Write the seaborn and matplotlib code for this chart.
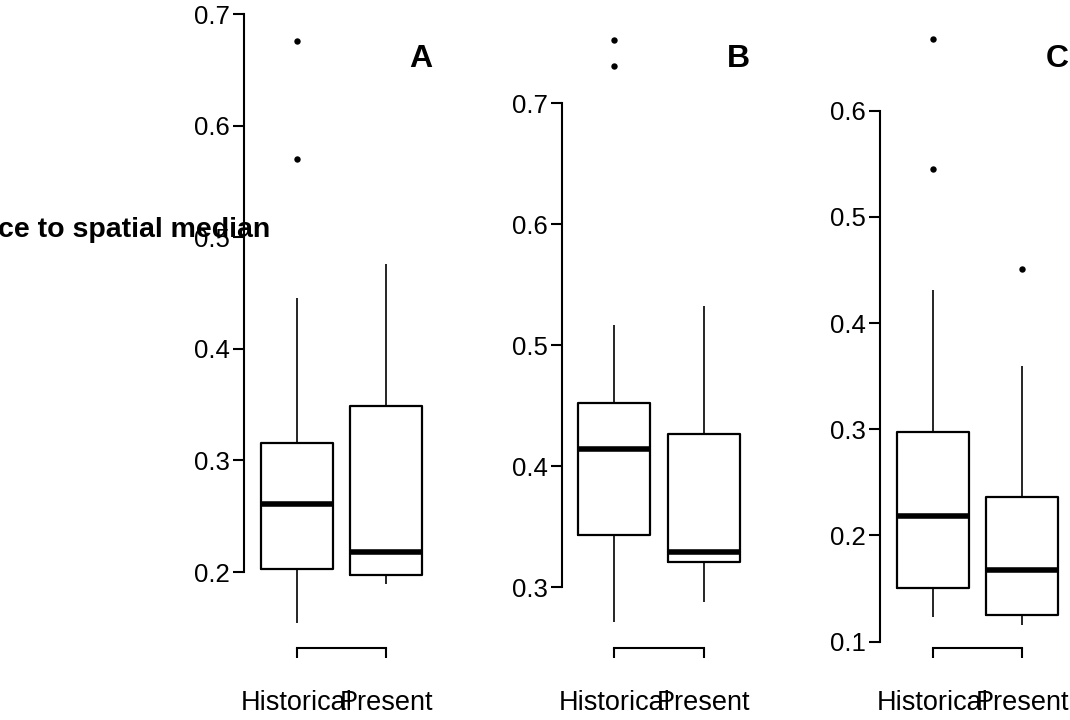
import numpy as np
import pandas as pd
import matplotlib
matplotlib.use("Agg")
import matplotlib.pyplot as plt
import seaborn as sns

# Distance to spatial median, summarised per period for three regions.
periods = ["Historical", "Present"]
panel_letters = ["A", "B", "C"]

# five-number summaries: lower whisker, Q1, median, Q3, upper whisker
a_hist = [0.154, 0.2024, 0.261, 0.316, 0.4455]
a_pres = [0.189, 0.1976, 0.2177, 0.349, 0.476]
b_hist = [0.2709, 0.3427, 0.4142, 0.4521, 0.5166]
b_pres = [0.2878, 0.321, 0.3287, 0.4263, 0.5324]
c_hist = [0.1232, 0.1506, 0.2181, 0.2975, 0.4312]
c_pres = [0.116, 0.1253, 0.1675, 0.2363, 0.3595]

# outlying observations
a_out_hist = [0.570, 0.6765]
a_out_pres = []
b_out_hist = [0.731, 0.7523]
b_out_pres = []
c_out_hist = [0.5451, 0.6675]
c_out_pres = [0.451]

# y-axis tick values per panel
a_ticks = [0.2, 0.3, 0.4, 0.5, 0.6, 0.7]
b_ticks = [0.3, 0.4, 0.5, 0.6, 0.7]
c_ticks = [0.1, 0.2, 0.3, 0.4, 0.5, 0.6]

ylabel = "Distance to spatial median"


def sample_from_summary(summary, outliers, reps=10):
    """Observation set whose quartiles and whiskers equal the given summary."""
    lo, q1, med, q3, hi = summary
    return [lo] + [q1] * reps + [med] * reps + [q3] * reps + [hi] + list(outliers)


def panel_frame(hist, hist_out, pres, pres_out):
    rows = []
    for period, summ, outs in ((periods[0], hist, hist_out), (periods[1], pres, pres_out)):
        for v in sample_from_summary(summ, outs):
            rows.append({"period": period, "dist": v})
    return pd.DataFrame(rows)


panels = [
    (panel_frame(a_hist, a_out_hist, a_pres, a_out_pres), a_ticks, (0.1323, 0.7022)),
    (panel_frame(b_hist, b_out_hist, b_pres, b_out_pres), b_ticks, (0.250, 0.7755)),
    (panel_frame(c_hist, c_out_hist, c_pres, c_out_pres), c_ticks, (0.0945, 0.6929)),
]

sns.set_theme(style="white")
plt.rcParams["font.family"] = ["Liberation Sans", "DejaVu Sans"]

W, H = 1070, 720
fig = plt.figure(figsize=(W / 100, H / 100), dpi=100)

left_px = [244, 561.5, 880]
ax_w_px = 195
bottom_px = 647.5
top_px = 12

font_size = 18.5
for (df, ticks, ylim), left, letter in zip(panels, left_px, panel_letters):
    ax = fig.add_axes([left / W, (H - bottom_px) / H, ax_w_px / W, (bottom_px - top_px) / H])
    sns.boxplot(
        data=df, x="period", y="dist", order=periods, ax=ax,
        fill=False, color="black", width=0.8, showcaps=False,
        boxprops=dict(linewidth=1.6, color="black"),
        whiskerprops=dict(linewidth=1.2, color="black"),
        medianprops=dict(linewidth=4.0, color="black", solid_capstyle="butt"),
        flierprops=dict(marker="o", markersize=4.6, markerfacecolor="black",
                        markeredgecolor="black", markeredgewidth=0),
    )
    ax.set_xlim(-0.59, 1.59)
    ax.set_ylim(*ylim)
    ax.set_xlabel("")
    ax.set_ylabel("")

    ax.set_yticks(ticks)
    ax.set_yticklabels([f"{t:.1f}" for t in ticks])
    ax.set_xticks([0, 1])
    ax.set_xticklabels(periods)

    for side in ("top", "right"):
        ax.spines[side].set_visible(False)
    ax.spines["left"].set_bounds(ticks[0], ticks[-1])
    ax.spines["bottom"].set_bounds(0, 1)
    for side in ("left", "bottom"):
        ax.spines[side].set_linewidth(1.5)
        ax.spines[side].set_color("black")

    ax.tick_params(axis="y", direction="out", length=8, width=1.5, pad=2,
                   labelsize=font_size, colors="black", left=True)
    ax.tick_params(axis="x", direction="out", length=7.5, width=1.5, pad=23,
                   labelsize=19.5, colors="black", bottom=True)

    ax.text(1.39, 0.926, letter, transform=ax.get_xaxis_transform(),
            ha="center", va="center", fontsize=23, fontweight="bold", color="black")

fig.text(270 / W, (H - 230) / H, ylabel, ha="right", va="center",
         fontsize=20.5, fontweight="bold", color="black")

fig.savefig("out.png", dpi=100, facecolor="white")
